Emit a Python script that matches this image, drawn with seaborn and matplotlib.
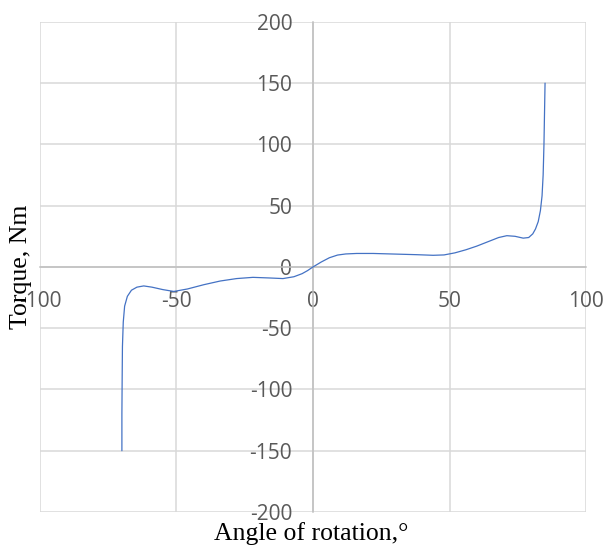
import numpy as np
import pandas as pd
import matplotlib
matplotlib.use("Agg")
import matplotlib.pyplot as plt
import seaborn as sns

# --- DATA ---
angle = [-70.0, -70.0, -69.9, -69.8, -69.5, -69.0, -68.0, -66.5, -64.5, -62.0,
         -59.0, -55.0, -51.0, -46.0, -40.0, -34.0, -28.0, -22.0, -16.0, -11.0,
         -7.0, -4.0, -2.0, 0.0, 3.0, 6.0, 9.0, 12.0, 16.0, 22.0,
         30.0, 38.0, 44.0, 48.0, 52.0, 56.0, 60.0, 64.0, 68.0, 71.0,
         74.0, 77.0, 79.0, 80.5, 81.5, 82.5, 83.3, 83.9, 84.3, 84.6,
         84.8, 85.0]
torque = [-150.0, -120.0, -90.0, -65.0, -45.0, -32.0, -24.0, -19.0, -16.5, -15.5,
          -16.5, -18.5, -20.0, -18.0, -14.5, -11.5, -9.5, -8.5, -9.0, -9.5,
          -8.0, -5.5, -3.0, 0.0, 4.0, 7.5, 9.7, 10.6, 11.0, 11.0,
          10.5, 10.0, 9.5, 9.8, 11.5, 14.0, 17.0, 20.5, 24.0, 25.5,
          25.0, 23.5, 24.0, 27.0, 31.0, 37.0, 46.0, 58.0, 75.0, 100.0,
          125.0, 150.0]
x_ticks = [-100, -50, 0, 50, 100]
y_ticks = [-200, -150, -100, -50, 0, 50, 100, 150, 200]

df = pd.DataFrame({"angle": angle, "torque": torque})

sns.set_style("white")
plt.rcParams['font.family'] = ['Open Sans', 'DejaVu Sans']
plt.rcParams['axes.unicode_minus'] = False

fig = plt.figure(figsize=(6.06, 5.47), dpi=100)
ax = fig.add_axes([0.066, 0.064, 0.901, 0.896])

sns.lineplot(data=df, x="angle", y="torque", sort=False, estimator=None,
             color="#4472C4", linewidth=0.9, ax=ax, zorder=3)

ax.set_xlim(-100, 100)
ax.set_ylim(-200, 200)
ax.set_xticks(x_ticks)
ax.set_yticks(y_ticks)

grid_c = "#D9D9D9"
ax.grid(True, color=grid_c, linewidth=1.1)
for gl in ax.get_xgridlines() + ax.get_ygridlines():
    gl.set_clip_on(False)

# axes cross at the origin, Excel style
ax.spines['left'].set_position('zero')
ax.spines['bottom'].set_position('zero')
ax.spines['top'].set_visible(False)
ax.spines['right'].set_visible(False)
for s in ['left', 'bottom']:
    ax.spines[s].set_color("#BFBFBF")
    ax.spines[s].set_linewidth(1.1)
    ax.spines[s].set_zorder(2)

ax.tick_params(axis='x', length=0, pad=17, labelsize=15, labelcolor="#595959")
ax.tick_params(axis='y', length=0, pad=15, labelsize=15, labelcolor="#595959")
ax.set_xlabel("")
ax.set_ylabel("")

fig.text(0.514, 0.024, "Angle of rotation,°", family="Liberation Serif",
         fontsize=18.5, ha="center", va="center", color="black")
fig.text(0.035, 0.512, "Torque, Nm", family="Liberation Serif",
         fontsize=18.5, ha="center", va="center", rotation=90, color="black",
         zorder=5)

fig.savefig("out.png", dpi=100)
